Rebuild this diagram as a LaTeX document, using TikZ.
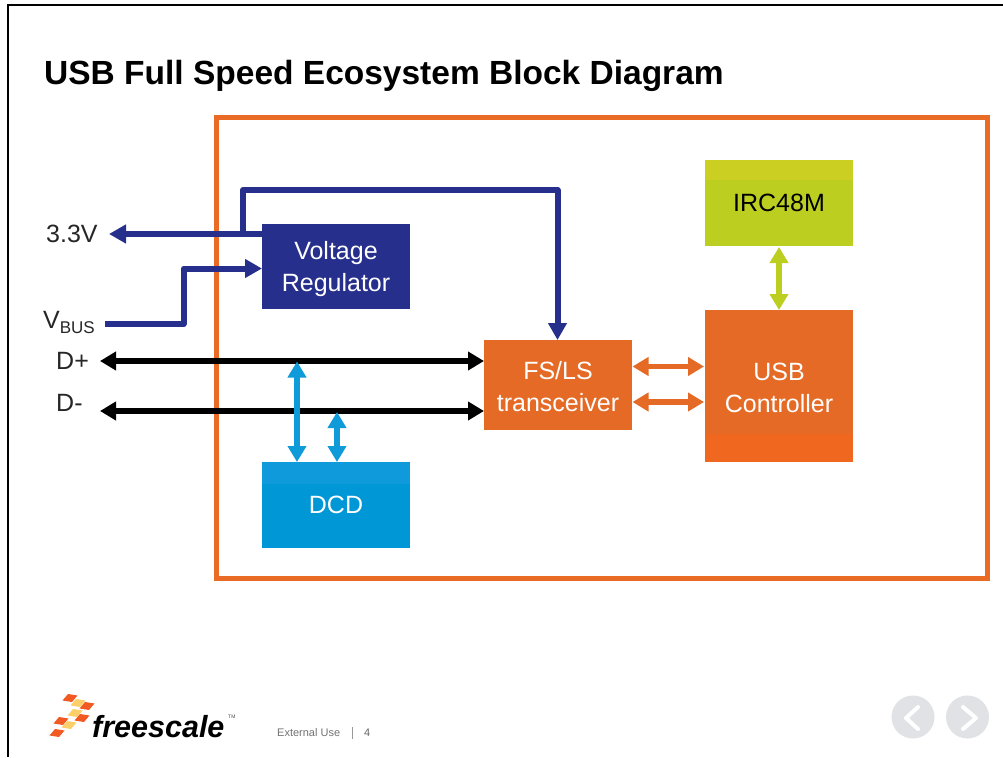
\documentclass[tikz,border=0pt]{standalone}
\usepackage{fontspec}
\setmainfont{Liberation Sans}
\usetikzlibrary{arrows.meta,calc}
\definecolor{frameor}{HTML}{E96B25}
\definecolor{navy}{HTML}{26308C}
\definecolor{cyanb}{HTML}{0F9AD9}
\definecolor{cyantop}{HTML}{0F9ADB}
\definecolor{cyanmid}{HTML}{0097D6}
\definecolor{orb}{HTML}{E46A25}
\definecolor{orlow}{HTML}{F06820}
\definecolor{lime}{HTML}{BCCF20}
\definecolor{limetop}{HTML}{CBCF22}
\definecolor{navg}{HTML}{E0E2E5}
\definecolor{chipor}{HTML}{F15A22}
\definecolor{chipye}{HTML}{FDCF6A}
\tikzset{
 x=1pt,y=-1pt,
 blockbox/.style={minimum width=148pt,anchor=north west,inner sep=0pt,outer sep=0pt,align=center,font=\fontsize{25}{30}\selectfont,text=white},
 conn/.style={line width=6pt,line join=round},
 head/.style={-{Triangle[length=17pt,width=18pt]}},
 dhead/.style={{Triangle[length=16pt,width=18pt]}-{Triangle[length=16pt,width=18pt]}},
 lab/.style={inner sep=0pt,font=\fontsize{25}{30}\selectfont,text=black!85},
}
\newcommand{\chipat}[3]{\fill[#3] ($(#1,#2)+(-7.5,2.5)$) -- ++(5.5,-6.5) -- ++(9.5,1.5) -- ++(-5.5,6.5) -- cycle;}
\begin{document}
\begin{tikzpicture}
\useasboundingbox (0,0) rectangle (1003,757);
\fill[white] (0,0) rectangle (1003,757);
% slide border
\draw[line width=2pt,black] (8,757) -- (8,5.5) -- (1003,5.5);
% title
\node[anchor=west,inner sep=0pt,font=\bfseries\fontsize{33.5}{38}\selectfont] (title) at (44,76) {USB Full Speed Ecosystem Block Diagram};
% frame
\node[draw=frameor,line width=5pt,anchor=north west,minimum width=771pt,minimum height=461pt,inner sep=0pt,outer sep=0pt] (frame) at (216.5,117.5) {};
% blocks
\node[blockbox,fill=navy,minimum height=85pt] (vr) at (262,224) {\rule{0pt}{24pt}Voltage\\[2pt]Regulator};
\node[blockbox,fill=cyanmid,minimum height=86pt,path picture={\fill[cyantop] (path picture bounding box.north west) rectangle ($(path picture bounding box.north east)+(0,22)$);}] (dcd) at (262,462) {DCD};
\node[blockbox,fill=orb,minimum height=90pt] (fs) at (484,340) {\rule{0pt}{21pt}FS/LS\\[2pt]transceiver};
\node[blockbox,fill=orb,minimum height=152pt,path picture={\fill[orlow] ($(path picture bounding box.south west)+(0,-28)$) rectangle (path picture bounding box.south east);}] (usb) at (705,310) {\rule{0pt}{22pt}USB\\[2pt]Controller};
\node[blockbox,fill=lime,minimum height=86pt,text=black,path picture={\fill[limetop] (path picture bounding box.north west) rectangle ($(path picture bounding box.north east)+(0,20)$);}] (irc) at (705,160) {IRC48M};
% labels
\node[lab,anchor=west] (v33) at (46,234) {3.3V};
\node[lab,anchor=west] (vbus) at (43,322) {V\raisebox{-5pt}{\fontsize{17}{20}\selectfont BUS}};
\node[lab,anchor=west] (dp) at (56,361) {D+};
\node[lab,anchor=west] (dm) at (56,403) {D-};
% free ends
\coordinate (e33) at (109,234);
\coordinate (ebus) at (105,324);
\coordinate (edp) at (100,361);
\coordinate (edm) at (100,411);
% connectors
\draw[conn,navy,head] (vr.west |- 0,234) -- (e33);
\draw[conn,navy,head] (243,234) -- (243,190) -- (557.5,190) -- (fs.north -| 557.5,0);
\draw[conn,navy,head] (ebus) -- (183.5,324) -- (183.5,268.5) -- (vr.west |- 0,268.5);
\draw[line width=5.5pt,black,dhead] (edp) -- (fs.west |- 0,361);
\draw[line width=5.5pt,black,dhead] (edm) -- (fs.west |- 0,411);
\draw[line width=5.5pt,cyanb,dhead] (297,361.5) -- (dcd.north -| 297,0);
\draw[line width=5.5pt,cyanb,dhead] (337,412) -- (dcd.north -| 337,0);
\draw[line width=5.5pt,orb,dhead] (632.5,366.5) -- (704,366.5);
\draw[line width=5.5pt,orb,dhead] (632.5,402) -- (704,402);
\draw[line width=5.5pt,lime,dhead] (irc.south) ++(0,1) -- (usb.north);
% logo
\chipat{70}{698}{chipor}
\chipat{78}{703}{chipye}
\chipat{87}{706}{chipor}
\chipat{75}{713}{chipye}
\chipat{82}{718}{chipor}
\chipat{61}{721}{chipor}
\chipat{69}{725}{chipye}
\chipat{57}{733}{chipor}
\node[anchor=west,inner sep=0pt,font=\bfseries\itshape\fontsize{30.5}{32}\selectfont] (logo) at (92,727) {freescale};
\node[anchor=west,inner sep=0pt,font=\fontsize{5}{6}\selectfont,text=black!70] (tm) at (228,717) {TM};
\node[anchor=west,inner sep=0pt,font=\fontsize{11}{12}\selectfont,text=black!55] (ext) at (277,733) {External Use};
\node[anchor=west,inner sep=0pt,font=\fontsize{11}{12}\selectfont,text=black!60] (pg) at (364,733) {4};
\draw[black!40,line width=0.7pt] (352,727) -- (352,739);
% nav
\fill[navg] (913,717) circle (21.5);
\fill[navg] (967.5,717) circle (21.5);
\draw[white,line width=4pt,line cap=round,line join=round] (918,707) -- (906,718) -- (918,729);
\draw[white,line width=4pt,line cap=round,line join=round] (963,707) -- (976,718) -- (963,729);
\end{tikzpicture}
\end{document}
